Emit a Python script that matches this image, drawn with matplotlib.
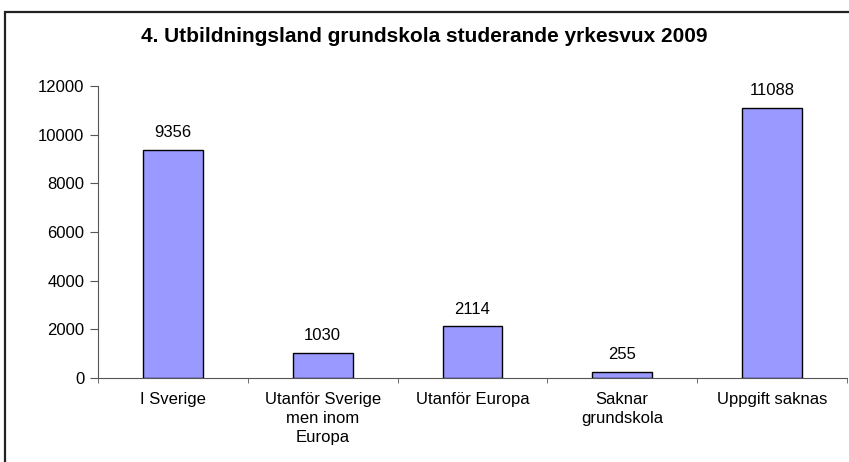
import numpy as np
import matplotlib
matplotlib.use('Agg')
import matplotlib.pyplot as plt
from matplotlib.patches import Rectangle

plt.rcParams['font.family'] = ['Liberation Sans', 'DejaVu Sans']

categories = ['I Sverige', 'Utanför Sverige\nmen inom\nEuropa', 'Utanför Europa',
              'Saknar\ngrundskola', 'Uppgift saknas']
values = [9356, 1030, 2114, 255, 11088]
yticks = [0, 2000, 4000, 6000, 8000, 10000, 12000]
title = '4. Utbildningsland grundskola studerande yrkesvux 2009'

fig = plt.figure(figsize=(8.49, 4.62), dpi=100)
ax = fig.add_axes([0.1155, 0.182, 0.882, 0.632])

# outer chart border (runs off right/bottom edges like the original)
fig.patches.append(Rectangle((5/849, -0.05), 1.0, 1 - 11.5/462 + 0.05,
                             transform=fig.transFigure, fill=False,
                             edgecolor='#222222', linewidth=1.6, clip_on=False))

x = np.arange(len(categories))
bars = ax.bar(x, values, width=0.4, color='#9999FF', edgecolor='black', linewidth=1)

for xi, v in zip(x, values):
    ax.annotate(str(v), (xi, v), xytext=(0, 12.5), textcoords='offset points',
                ha='center', va='center', fontsize=12)

ax.set_xlim(-0.5, len(categories) - 0.5)
ax.set_ylim(0, 12000)
ax.set_yticks(yticks)
ax.set_xticks(x)
ax.set_xticklabels(categories, fontsize=12, linespacing=1.35)
ax.set_xticks(np.arange(-0.5, len(categories)), minor=True)
ax.tick_params(axis='x', which='major', length=0, pad=10)
ax.tick_params(axis='x', which='minor', length=3.5, direction='out', color='#555555')
ax.tick_params(axis='y', length=6, direction='out', labelsize=12, pad=4, color='#555555')

for s in ['top', 'right']:
    ax.spines[s].set_visible(False)
ax.spines['left'].set_color('#555555')
ax.spines['bottom'].set_color('#555555')

fig.text(0.5, 1 - 36/462, title, ha='center', va='center', fontsize=15, fontweight='bold')

plt.savefig('out.png', dpi=100)
